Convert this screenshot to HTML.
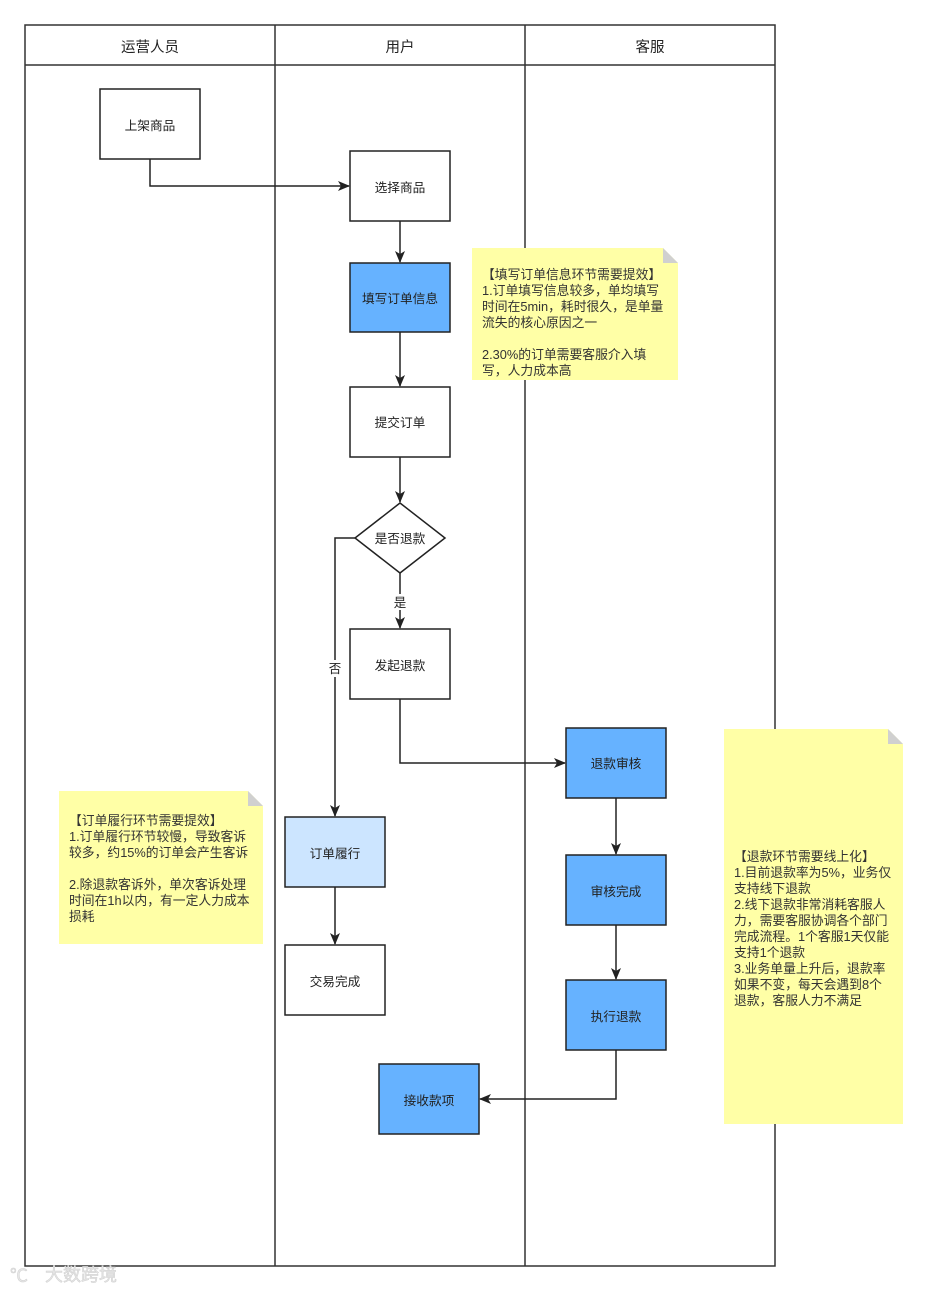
<!DOCTYPE html>
<html><head><meta charset="utf-8"><style>
html,body{margin:0;padding:0;background:#fff}
svg text{font-family:"Liberation Sans","Noto Sans CJK SC",sans-serif;}
</style></head><body>
<svg width="928" height="1291" viewBox="0 0 928 1291" xmlns="http://www.w3.org/2000/svg">
<defs><marker id="a" markerWidth="12" markerHeight="12" refX="11" refY="6" orient="auto" markerUnits="userSpaceOnUse"><path d="M0,1 L12,6 L0,11 L3,6 Z" fill="#222"/></marker></defs>
<rect width="928" height="1291" fill="#fff"/>
<g stroke="#333" stroke-width="1.5" fill="none">
<rect x="25" y="25" width="750" height="1241"/>
<line x1="25" y1="65" x2="775" y2="65"/>
<line x1="275" y1="25" x2="275" y2="1266"/>
<line x1="525" y1="25" x2="525" y2="1266"/>
</g>
<g font-size="14.5" fill="#222" text-anchor="middle">
<text x="150" y="52">运营人员</text><text x="400" y="52">用户</text><text x="650" y="52">客服</text>
</g>
<g stroke="#222" stroke-width="1.5" fill="none" marker-end="url(#a)">
<polyline points="150,159 150,186 349,186"/>
<line x1="400" y1="221" x2="400" y2="262"/>
<line x1="400" y1="332" x2="400" y2="386"/>
<line x1="400" y1="457" x2="400" y2="502"/>
<line x1="400" y1="573" x2="400" y2="628"/>
<polyline points="355,538 335,538 335,816"/>
<polyline points="400,699 400,763 565,763"/>
<line x1="616" y1="798" x2="616" y2="854"/>
<line x1="616" y1="925" x2="616" y2="979"/>
<polyline points="616,1050 616,1099 480,1099"/>
<line x1="335" y1="887" x2="335" y2="944"/>
</g>
<rect x="393" y="594" width="14" height="16" fill="#fff"/>
<text x="400" y="607" font-size="12.5" text-anchor="middle" fill="#222">是</text>
<rect x="328" y="660" width="14" height="17" fill="#fff"/>
<text x="335" y="673" font-size="12.5" text-anchor="middle" fill="#222">否</text>
<g stroke="#222" stroke-width="1.5">
<rect x="100" y="89" width="100" height="70" fill="#fff"/>
<rect x="350" y="151" width="100" height="70" fill="#fff"/>
<rect x="350" y="263" width="100" height="69" fill="#66b2ff"/>
<rect x="350" y="387" width="100" height="70" fill="#fff"/>
<polygon points="400,503 445,538 400,573 355,538" fill="#fff"/>
<rect x="350" y="629" width="100" height="70" fill="#fff"/>
<rect x="566" y="728" width="100" height="70" fill="#66b2ff"/>
<rect x="566" y="855" width="100" height="70" fill="#66b2ff"/>
<rect x="566" y="980" width="100" height="70" fill="#66b2ff"/>
<rect x="285" y="817" width="100" height="70" fill="#cce5ff"/>
<rect x="285" y="945" width="100" height="70" fill="#fff"/>
<rect x="379" y="1064" width="100" height="70" fill="#66b2ff"/>
</g>
<g font-size="12.7" fill="#222" text-anchor="middle">
<text x="150" y="130">上架商品</text>
<text x="400" y="192">选择商品</text>
<text x="400" y="303">填写订单信息</text>
<text x="400" y="427">提交订单</text>
<text x="400" y="543">是否退款</text>
<text x="400" y="670">发起退款</text>
<text x="616" y="768">退款审核</text>
<text x="616" y="896">审核完成</text>
<text x="616" y="1021">执行退款</text>
<text x="335" y="858">订单履行</text>
<text x="335" y="986">交易完成</text>
<text x="429" y="1105">接收款项</text>
</g>
<g>
<path d="M472,248 H663 L678,263 V380 H472 Z" fill="#ffffa6"/><path d="M663,248 L678,263 H663 Z" fill="#d0d0d0"/>
<path d="M59,791 H248 L263,806 V944 H59 Z" fill="#ffffa6"/><path d="M248,791 L263,806 H248 Z" fill="#d0d0d0"/>
<path d="M724,729 H888 L903,744 V1124 H724 Z" fill="#ffffa6"/><path d="M888,729 L903,744 H888 Z" fill="#d0d0d0"/>
</g>
<g font-size="12.8" fill="#333">
<text x="482" y="279">【填写订单信息环节需要提效】</text>
<text x="482" y="295">1.订单填写信息较多，单均填写</text>
<text x="482" y="311">时间在5min，耗时很久，是单量</text>
<text x="482" y="327">流失的核心原因之一</text>
<text x="482" y="359">2.30%的订单需要客服介入填</text>
<text x="482" y="375">写，人力成本高</text>
<text x="69" y="825">【订单履行环节需要提效】</text>
<text x="69" y="841">1.订单履行环节较慢，导致客诉</text>
<text x="69" y="857">较多，约15%的订单会产生客诉</text>
<text x="69" y="889">2.除退款客诉外，单次客诉处理</text>
<text x="69" y="905">时间在1h以内，有一定人力成本</text>
<text x="69" y="921">损耗</text>
<text x="734" y="861">【退款环节需要线上化】</text>
<text x="734" y="877">1.目前退款率为5%，业务仅</text>
<text x="734" y="893">支持线下退款</text>
<text x="734" y="909">2.线下退款非常消耗客服人</text>
<text x="734" y="925">力，需要客服协调各个部门</text>
<text x="734" y="941">完成流程。1个客服1天仅能</text>
<text x="734" y="957">支持1个退款</text>
<text x="734" y="973">3.业务单量上升后，退款率</text>
<text x="734" y="989">如果不变，每天会遇到8个</text>
<text x="734" y="1005">退款，客服人力不满足</text>
</g>
<text x="45" y="1281" font-size="18" fill="#e6e6e6" stroke="#cfcfcf" stroke-width="0.5">大数跨境</text>
<text x="10" y="1282" font-size="18" fill="#e6e6e6" stroke="#cfcfcf" stroke-width="0.5">℃</text>
</svg>
</body></html>
